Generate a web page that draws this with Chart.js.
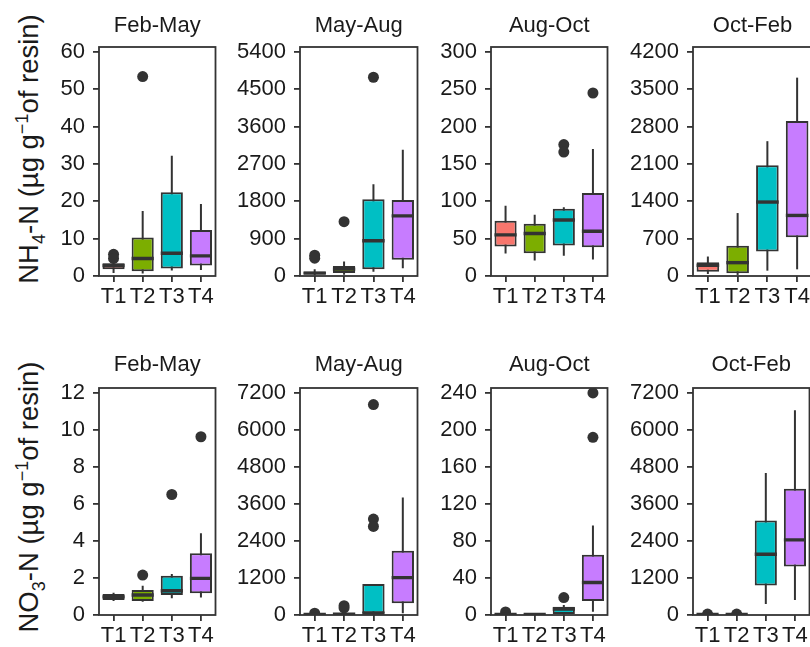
<!DOCTYPE html>
<html lang="en">
<head>
  <meta charset="UTF-8" />
  <title>Resin N boxplots</title>
  <script src="https://cdn.jsdelivr.net/npm/chart.js"></script>
  <style>
    html, body { margin: 0; padding: 0; background: #fff; overflow: hidden; }
    #wrap { position: relative; width: 810px; height: 647px; overflow: hidden; }
    #wrap canvas { position: absolute; }
    .ytitle {
      position: absolute; width: 360px; height: 34px; line-height: 34px;
      text-align: center; transform: rotate(-90deg); white-space: nowrap;
      font-family: "Liberation Sans", Arial, sans-serif; font-size: 27.5px; color: #1a1a1a;
    }
    .ytitle sub, .ytitle sup { font-size: 18px; }
  </style>
</head>
<body>
  <div id="wrap">
    <div class="ytitle" style="left:-158px; top:132px;">NH<sub>4</sub>-N (µg g<sup>−1</sup>of resin)</div>
    <div class="ytitle" style="left:-158px; top:480px;">NO<sub>3</sub>-N (µg g<sup>−1</sup>of resin)</div>
  </div>

  <script>
    const treatments = ["T1", "T2", "T3", "T4"];
    const periods = ["Feb-May", "May-Aug", "Aug-Oct", "Oct-Feb"];
    const boxColors = ["#F8766D", "#7CAE00", "#00BFC4", "#C77CFF"];

    // tick labels per period
    const nh4Ticks = [
      [0, 10, 20, 30, 40, 50, 60],
      [0, 900, 1800, 2700, 3600, 4500, 5400],
      [0, 50, 100, 150, 200, 250, 300],
      [0, 700, 1400, 2100, 2800, 3500, 4200]
    ];
    const no3Ticks = [
      [0, 2, 4, 6, 8, 10, 12],
      [0, 1200, 2400, 3600, 4800, 6000, 7200],
      [0, 40, 80, 120, 160, 200, 240],
      [0, 1200, 2400, 3600, 4800, 6000, 7200]
    ];

    // NH4-N box stats, one row per period, T1..T4
    const nh4Low = [[0.8, 0.7, 1.5, 1.6], [20, 30, 100, 185], [30, 20.6, 27, 22], [38, 20, 100, 125]];
    const nh4Q1 = [[1.8, 1.3, 2.0, 2.8], [40, 70, 160, 390], [39.5, 30.5, 41, 38.5], [80, 50, 458, 727]];
    const nh4Median = [[2.8, 4.7, 6.1, 5.4], [70, 165, 850, 1450], [55, 57, 75, 60], [200, 250, 1386, 1135]];
    const nh4Q3 = [[3.4, 10.3, 22.4, 12.3], [110, 240, 1850, 1830], [74, 70, 90, 111], [257, 565, 2075, 2903]];
    const nh4High = [[4.2, 17.4, 32.2, 19.3], [160, 350, 2210, 3040], [94, 82, 92, 170], [365, 1180, 2527, 3718]];
    const nh4Outliers = [
      [[5.8, 4.7], [53.4], [], []],
      [[500, 430], [1310], [4790], []],
      [[], [], [176, 166], [245]],
      [[], [], [], []]
    ];

    // NO3-N box stats
    const no3Low = [[0.75, 0.72, 0.9, 0.95], [0, 0, 0, 54], [0, 0, 0.3, 3.6], [0, 0, 357, 487]];
    const no3Q1 = [[0.81, 0.76, 1.08, 1.17], [5, 10, 54, 380], [0.3, 0.2, 1.1, 15.2], [5, 5, 953, 1570]];
    const no3Median = [[0.98, 1.08, 1.31, 1.98], [15, 25, 60, 1210], [0.6, 0.5, 6.5, 35.1], [15, 15, 1971, 2436]];
    const no3Q3 = [[1.13, 1.35, 2.12, 3.33], [30, 50, 1007, 2080], [1, 0.9, 9, 65.2], [30, 30, 3064, 4093]];
    const no3High = [[1.2, 1.58, 2.21, 4.41], [50, 90, 1007, 3810], [1.5, 1.3, 10.9, 96.7], [50, 50, 4602, 6637]];
    const no3Outliers = [
      [[], [2.16], [6.51], [9.63]],
      [[60], [300, 230], [6820, 3110, 2870], []],
      [[3.3], [], [18.8], [240, 192]],
      [[30], [30], [], []]
    ];

    const FONT = '"Liberation Sans", Arial, sans-serif';
    const INK = "#333333";
    const TEXT = "#1a1a1a";
    const plotLefts = [99, 300, 491, 693];
    const plotWidths = [119, 120, 119, 119];
    const YAXIS_W = 80;

    // whiskers under the boxes, medians, frame and panel title on top
    const boxPlugin = {
      id: "boxPlugin",
      beforeDatasetsDraw(chart) {
        const st = chart.options.plugins.boxPlugin;
        const y = chart.scales.y, ctx = chart.ctx, a = chart.chartArea;
        const bars = chart.getDatasetMeta(0).data;
        ctx.save();
        ctx.beginPath();
        ctx.rect(a.left, a.top, a.width, a.height);
        ctx.clip();
        ctx.strokeStyle = INK;
        ctx.lineWidth = 2;
        bars.forEach((b, i) => {
          ctx.beginPath();
          ctx.moveTo(b.x, y.getPixelForValue(st.low[i]));
          ctx.lineTo(b.x, y.getPixelForValue(st.high[i]));
          ctx.stroke();
        });
        ctx.restore();
      },
      afterDatasetsDraw(chart) {
        const st = chart.options.plugins.boxPlugin;
        const y = chart.scales.y, ctx = chart.ctx, a = chart.chartArea;
        const bars = chart.getDatasetMeta(0).data;
        ctx.save();
        ctx.beginPath();
        ctx.rect(a.left, a.top, a.width, a.height);
        ctx.clip();
        ctx.strokeStyle = INK;
        ctx.lineWidth = 3.4;
        bars.forEach((b, i) => {
          const py = y.getPixelForValue(st.median[i]);
          ctx.beginPath();
          ctx.moveTo(b.x - b.width / 2, py);
          ctx.lineTo(b.x + b.width / 2, py);
          ctx.stroke();
        });
        ctx.restore();
        ctx.save();
        ctx.strokeStyle = INK;
        ctx.lineWidth = 1.8;
        ctx.strokeRect(a.left, a.top, a.width, a.height);
        ctx.fillStyle = TEXT;
        ctx.font = "22px " + FONT;
        ctx.textAlign = "center";
        ctx.textBaseline = "middle";
        ctx.fillText(st.title, (a.left + a.right) / 2, a.top - st.titleGap);
        ctx.restore();
      }
    };

    function makePanel(row, p) {
      const top = row === 0 ? 0 : 321;
      const height = row === 0 ? 321 : 326;
      const ticks = row === 0 ? nh4Ticks[p] : no3Ticks[p];
      const low = (row === 0 ? nh4Low : no3Low)[p];
      const q1 = (row === 0 ? nh4Q1 : no3Q1)[p];
      const median = (row === 0 ? nh4Median : no3Median)[p];
      const q3 = (row === 0 ? nh4Q3 : no3Q3)[p];
      const high = (row === 0 ? nh4High : no3High)[p];
      const outliers = (row === 0 ? nh4Outliers : no3Outliers)[p];

      const canvas = document.createElement("canvas");
      canvas.width = YAXIS_W + plotWidths[p] + 3;
      canvas.height = height;
      canvas.style.left = (plotLefts[p] - YAXIS_W) + "px";
      canvas.style.top = top + "px";
      document.getElementById("wrap").appendChild(canvas);

      const points = [];
      outliers.forEach((list, i) => list.forEach(v => points.push({ x: treatments[i], y: v })));

      const topTick = ticks[ticks.length - 1];
      new Chart(canvas.getContext("2d"), {
        type: "bar",
        data: {
          labels: treatments,
          datasets: [
            {
              type: "bar",
              data: q1.map((v, i) => [v, q3[i]]),
              backgroundColor: boxColors,
              borderColor: INK,
              borderWidth: 2,
              borderSkipped: false,
              barPercentage: 0.76,
              categoryPercentage: 1,
              order: 1
            },
            {
              type: "scatter",
              data: points,
              pointRadius: 5.5,
              pointBackgroundColor: INK,
              pointBorderWidth: 0,
              order: 0
            }
          ]
        },
        options: {
          responsive: false,
          animation: false,
          layout: { padding: { left: 0, right: 3, top: row === 0 ? 47 : 67, bottom: 0 } },
          plugins: {
            legend: { display: false },
            tooltip: { enabled: false },
            title: { display: false },
            boxPlugin: { low, median, high, title: periods[p], titleGap: row === 0 ? 21 : 23 }
          },
          scales: {
            x: {
              ticks: { color: TEXT, font: { family: FONT, size: 22 }, padding: 2, maxRotation: 0, autoSkip: false },
              grid: { drawOnChartArea: false, offset: false, tickLength: 6, color: INK, lineWidth: 1.8 },
              border: { display: false },
              afterFit: s => { s.height = row === 0 ? 45 : 32; }
            },
            y: {
              min: 0,
              max: topTick * 1.022,
              afterBuildTicks: s => { s.ticks = ticks.map(v => ({ value: v })); },
              ticks: { color: TEXT, font: { family: FONT, size: 22 }, padding: 8, callback: v => String(v) },
              grid: { drawOnChartArea: false, tickLength: 6, color: INK, lineWidth: 1.8 },
              border: { display: false },
              afterFit: s => { s.width = YAXIS_W; }
            }
          }
        },
        plugins: [boxPlugin]
      });
    }

    for (let row = 0; row < 2; row++) {
      for (let p = 0; p < 4; p++) makePanel(row, p);
    }
  </script>
</body>
</html>
